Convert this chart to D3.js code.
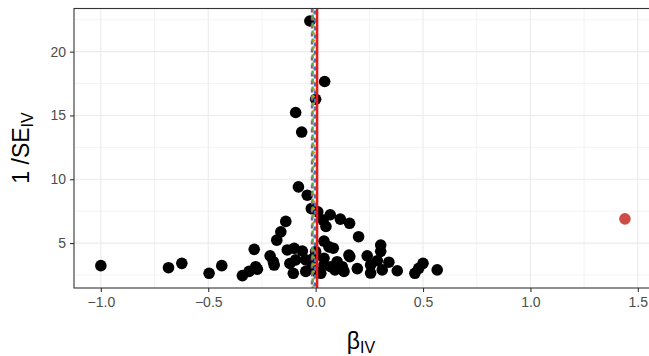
<!DOCTYPE html>
<html>
<head>
<meta charset="utf-8">
<script src="https://cdn.jsdelivr.net/npm/d3@7"></script>
<style>
  body { margin: 0; background: #fff; }
  svg { display: block; font-family: "Liberation Sans", Arial, sans-serif; }
</style>
</head>
<body>
<script>
// funnel plot: instrument estimates vs precision
var betaIV = [
  -0.027, 0.042, 0.0, -0.093, -0.065, -0.08, -0.039, -0.02, 0.01, 0.068,
  0.115, 0.158, 0.048, 0.035, -0.139, -0.162, -0.181, -0.286, 0.2, 0.039,
  0.062, 0.082, -0.132, -0.1, -0.062, 0.0, 0.155, 0.303, 0.303, 0.24,
  -0.212, -0.197, -0.093, -0.046, -0.01, 0.039, 0.1, 0.124, 0.07, 0.194,
  0.256, 0.256, 0.31, 0.341, 0.38, -0.341, -0.31, -0.279, -0.271, -0.193,
  -0.104, -0.046, 0.039, 0.132, 0.024, 0.287, 0.5, 0.462, 0.48, 0.566,
  0.159, -1.0, -0.685, -0.623, -0.496, -0.437, -0.02, 0.01, -0.12, 0.09
];
var precIV = [
  22.4, 17.66, 16.27, 15.23, 13.7, 9.4, 8.75, 7.7, 7.45, 7.22,
  6.88, 6.55, 6.3, 6.8, 6.7, 5.88, 5.23, 4.51, 5.5, 5.15,
  4.7, 4.6, 4.46, 4.59, 4.38, 4.33, 4.06, 4.84, 4.35, 4.0,
  4.0, 3.54, 3.68, 3.68, 3.81, 3.81, 3.54, 3.15, 3.15, 3.0,
  3.28, 2.65, 2.9, 3.5, 2.83, 2.45, 2.78, 3.15, 2.95, 3.28,
  2.63, 2.78, 3.28, 2.78, 2.63, 3.62, 3.41, 2.63, 3.02, 2.9,
  3.93, 3.23, 3.07, 3.41, 2.63, 3.23, 3.0, 2.7, 3.4, 2.9
];
var outlierBeta = [1.44];
var outlierPrec = [6.9];

// summary estimates drawn as vertical lines
var methodEst = [-0.017, -0.014, -0.008, -0.003, 0.007];
var methodCol = ["#984EA3", "#4DAF4A", "#FF7F00", "#377EB8", "#E41A1C"];
var methodDash = ["4,4", "4,4", "2,5", "4,4", null];

var xTicks = [-1.0, -0.5, 0.0, 0.5, 1.0, 1.5];
var xMinor = [-0.75, -0.25, 0.25, 0.75, 1.25];
var yTicks = [5, 10, 15, 20];
var yMinor = [2.5, 7.5, 12.5, 17.5, 22.5];

var W = 649, H = 356;
var pL = 74, pT = 8.5, pB = 288, pR = 655;

var x = d3.scaleLinear().domain([-1.125, 1.58]).range([pL, pR]);
var y = d3.scaleLinear().domain([1.48, 23.38]).range([pB, pT]);

var svg = d3.select("body").append("svg")
  .attr("width", W).attr("height", H);

svg.append("defs").append("clipPath").attr("id", "panel")
  .append("rect").attr("x", pL).attr("y", pT)
  .attr("width", pR - pL).attr("height", pB - pT);

var panel = svg.append("g").attr("clip-path", "url(#panel)");

// grid
panel.selectAll(".xmin").data(xMinor).enter().append("line")
  .attr("x1", d => x(d)).attr("x2", d => x(d))
  .attr("y1", pT).attr("y2", pB)
  .attr("stroke", "#EBEBEB").attr("stroke-width", 0.6);
panel.selectAll(".ymin").data(yMinor).enter().append("line")
  .attr("x1", pL).attr("x2", pR)
  .attr("y1", d => y(d)).attr("y2", d => y(d))
  .attr("stroke", "#EBEBEB").attr("stroke-width", 0.6);
panel.selectAll(".xmaj").data(xTicks).enter().append("line")
  .attr("x1", d => x(d)).attr("x2", d => x(d))
  .attr("y1", pT).attr("y2", pB)
  .attr("stroke", "#EBEBEB").attr("stroke-width", 1.1);
panel.selectAll(".ymaj").data(yTicks).enter().append("line")
  .attr("x1", pL).attr("x2", pR)
  .attr("y1", d => y(d)).attr("y2", d => y(d))
  .attr("stroke", "#EBEBEB").attr("stroke-width", 1.1);

// points
var pts = betaIV.map((b, i) => ({b: b, p: precIV[i]}));
panel.selectAll(".pt").data(pts).enter().append("circle")
  .attr("cx", d => x(d.b)).attr("cy", d => y(d.p))
  .attr("r", 5.8).attr("fill", "#000");

panel.selectAll(".out").data(outlierBeta).enter().append("circle")
  .attr("cx", d => x(d)).attr("cy", (d, i) => y(outlierPrec[i]))
  .attr("r", 5.8).attr("fill", "#CD4C46");

// method lines
panel.selectAll(".vline").data(methodEst).enter().append("line")
  .attr("x1", d => x(d)).attr("x2", d => x(d))
  .attr("y1", pT).attr("y2", pB)
  .attr("stroke", (d, i) => methodCol[i])
  .attr("stroke-width", 2.4)
  .attr("stroke-dasharray", (d, i) => methodDash[i])
  .attr("stroke-dashoffset", (d, i) => i * 2);

// border
svg.append("rect").attr("x", pL).attr("y", pT)
  .attr("width", 700).attr("height", pB - pT)
  .attr("fill", "none").attr("stroke", "#333333").attr("stroke-width", 1.1);

// axes
var xAxis = svg.append("g").attr("transform", "translate(0," + pB + ")")
  .call(d3.axisBottom(x).tickValues(xTicks).tickSize(4).tickPadding(5)
    .tickFormat(d3.format(".1f")));
var yAxis = svg.append("g").attr("transform", "translate(" + pL + ",0)")
  .call(d3.axisLeft(y).tickValues(yTicks).tickSize(4).tickPadding(4));

[xAxis, yAxis].forEach(function(a) {
  a.select(".domain").remove();
  a.attr("font-family", null).attr("font-size", 14);
  a.selectAll(".tick line").attr("stroke", "#333333").attr("stroke-width", 1.1);
  a.selectAll(".tick text").attr("fill", "#4D4D4D").attr("font-size", 14);
});
xAxis.selectAll(".tick text").text(d => d3.format(".1f")(d).replace("-", "\u2212"));

// titles
var xt = svg.append("text").attr("x", 361).attr("y", 349)
  .attr("text-anchor", "middle").attr("font-size", 23).attr("fill", "#000");
xt.append("tspan").text("\u03b2");
xt.append("tspan").attr("dy", 4).attr("font-size", 16).text("IV");

var yt = svg.append("text")
  .attr("transform", "translate(29,148) rotate(-90)")
  .attr("text-anchor", "middle").attr("font-size", 23).attr("fill", "#000");
yt.append("tspan").text("1 /SE");
yt.append("tspan").attr("dy", 4).attr("font-size", 16).text("IV");
</script>
</body>
</html>
